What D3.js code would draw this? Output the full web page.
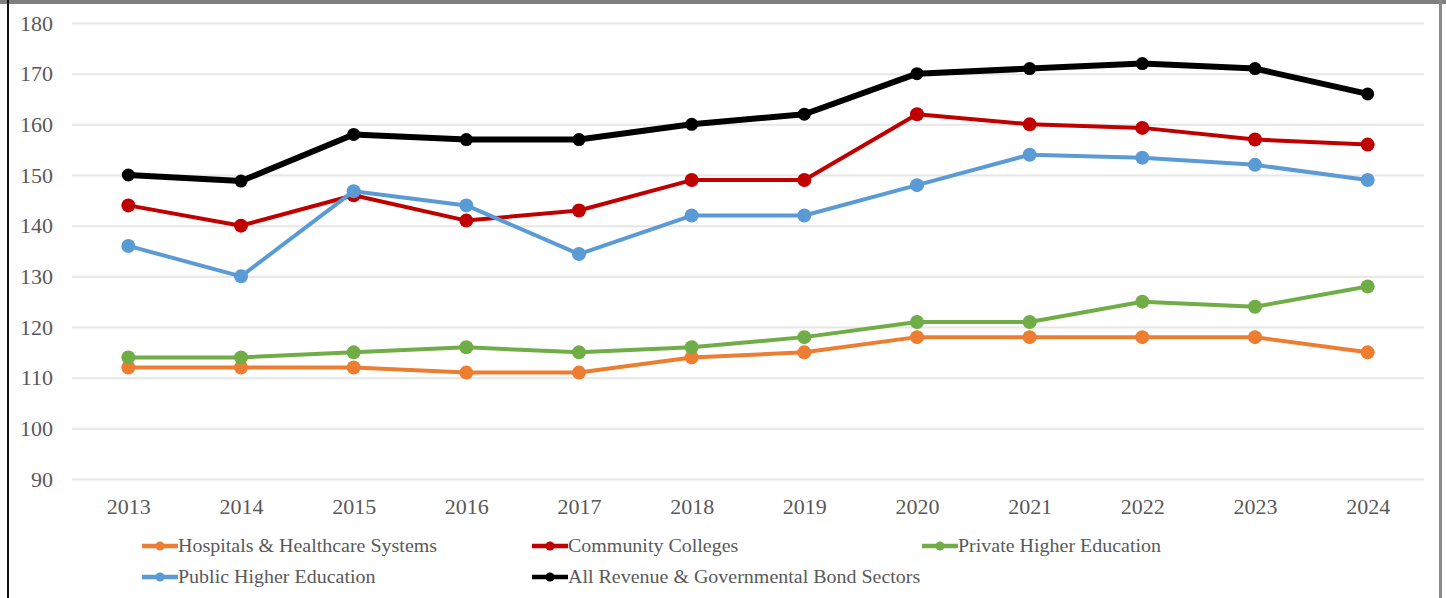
<!DOCTYPE html>
<html>
<head>
<meta charset="utf-8">
<script src="https://cdn.jsdelivr.net/npm/d3@7"></script>
<style>
  html, body { margin: 0; padding: 0; background: #fff; }
  svg { display: block; }
  text { font-family: "Liberation Serif", "Times New Roman", serif; fill: #595959; }
</style>
</head>
<body>
<div id="chart"></div>
<script>
const years = ['2013', '2014', '2015', '2016', '2017', '2018', '2019', '2020', '2021', '2022', '2023', '2024'];
const yTicks = [90, 100, 110, 120, 130, 140, 150, 160, 170, 180];

const hospitals = [112, 112, 112, 111, 111, 114, 115, 118, 118, 118, 118, 115];
const communityColleges = [144, 140, 146, 141, 143, 149, 149, 162, 160, 159.3, 157, 156];
const privateHigherEd = [114, 114, 115, 116, 115, 116, 118, 121, 121, 125, 124, 128];
const publicHigherEd = [136, 130, 146.8, 144, 134.4, 142, 142, 148, 154, 153.4, 152, 149];
const allSectors = [150, 148.8, 158, 157, 157, 160, 162, 170, 171, 172, 171, 166];

const series = [
  { name: 'Hospitals & Healthcare Systems', values: hospitals, color: '#ED7D31', width: 4, r: 7 },
  { name: 'Community Colleges', values: communityColleges, color: '#C00000', width: 4, r: 7 },
  { name: 'Private Higher Education', values: privateHigherEd, color: '#70AD47', width: 4, r: 7 },
  { name: 'Public Higher Education', values: publicHigherEd, color: '#5B9BD5', width: 4, r: 7 },
  { name: 'All Revenue & Governmental Bond Sectors', values: allSectors, color: '#000000', width: 6, r: 6.5 }
];

const W = 1446, H = 598;
const margin = { left: 72, right: 22, top: 23, bottom: 119 };

const svg = d3.select('#chart')
  .append('svg')
  .attr('width', W)
  .attr('height', H);

// frame (cut from a larger page)
svg.append('rect').attr('x', 0).attr('y', 0).attr('width', W).attr('height', 4).attr('fill', '#7f7f7f');
svg.append('rect').attr('x', 7).attr('y', 0).attr('width', 2).attr('height', H).attr('fill', '#111');
svg.append('rect').attr('x', 1439).attr('y', 0).attr('width', 3).attr('height', H).attr('fill', '#8a8a8a');

const xScale = d3.scalePoint()
  .domain(years)
  .range([margin.left, W - margin.right])
  .padding(0.5);

const yScale = d3.scaleLinear()
  .domain([90, 180])
  .range([H - margin.bottom, margin.top]);

// grid + y labels
const yAxis = d3.axisLeft(yScale)
  .tickValues(yTicks)
  .tickSize(-(W - margin.left - margin.right))
  .tickPadding(19)
  .tickFormat(d3.format('d'));

const yG = svg.append('g')
  .attr('class', 'axis axis-y')
  .attr('transform', `translate(${margin.left},0)`)
  .call(yAxis);
yG.select('.domain').remove();
yG.selectAll('.tick line').attr('stroke', '#e6e6e6').attr('stroke-width', 2);
yG.selectAll('.tick text')
  .attr('font-size', 22)
  .attr('fill', '#595959')
  .style('font-family', '"Liberation Serif", serif');

// x labels
const xAxis = d3.axisBottom(xScale).tickSize(0).tickPadding(19);
const xG = svg.append('g')
  .attr('class', 'axis axis-x')
  .attr('transform', `translate(0,${H - margin.bottom})`)
  .call(xAxis);
xG.select('.domain').remove();
xG.selectAll('.tick text')
  .attr('font-size', 22)
  .attr('fill', '#595959')
  .style('font-family', '"Liberation Serif", serif');

// lines
const line = d3.line()
  .x((d, i) => xScale(years[i]))
  .y(d => yScale(d));

series.forEach(s => {
  const g = svg.append('g').attr('class', 'series');
  g.append('path')
    .datum(s.values)
    .attr('fill', 'none')
    .attr('stroke', s.color)
    .attr('stroke-width', s.width)
    .attr('stroke-linejoin', 'round')
    .attr('d', line);
  g.selectAll('circle')
    .data(s.values)
    .enter()
    .append('circle')
    .attr('cx', (d, i) => xScale(years[i]))
    .attr('cy', d => yScale(d))
    .attr('r', s.r)
    .attr('fill', s.color);
});

// legend
const legendCols = [142, 532, 922];
const legendRows = [546, 577];
const legend = svg.append('g').attr('class', 'legend');
series.forEach((s, i) => {
  const x = legendCols[i % 3];
  const y = legendRows[Math.floor(i / 3)];
  const item = legend.append('g').attr('transform', `translate(${x},${y})`);
  item.append('line')
    .attr('x1', 0).attr('x2', 36)
    .attr('y1', 0).attr('y2', 0)
    .attr('stroke', s.color)
    .attr('stroke-width', 4.5);
  item.append('circle')
    .attr('cx', 18).attr('cy', 0)
    .attr('r', 4.5)
    .attr('fill', s.color);
  item.append('text')
    .attr('transform', 'translate(36,0) scale(1.08,1)')
    .attr('dy', '0.35em')
    .attr('font-size', 18.5)
    .text(s.name);
});
</script>
</body>
</html>
